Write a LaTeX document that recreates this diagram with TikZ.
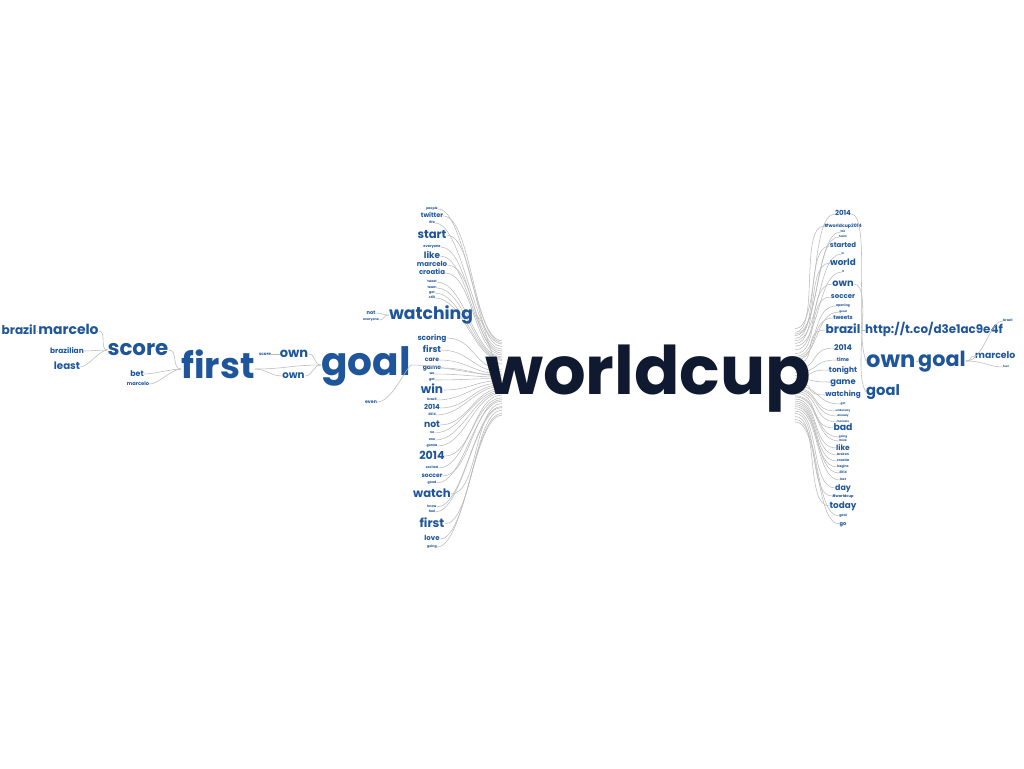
\documentclass[tikz,border=0pt]{standalone}
\usepackage{fontspec}
\setmainfont{Poppins}
\definecolor{wtblue}{HTML}{1E559B}
\definecolor{wtnavy}{HTML}{0F1A30}
\definecolor{wtgray}{HTML}{BBBBBB}
\tikzset{
  w/.code={%
    \pgfmathsetmacro\wsz{0.93*#1}\pgfmathsetmacro\wth{0.54*\wsz}%
    \edef\wtmp{\noexpand\tikzset{font={\noexpand\bfseries\noexpand\fontsize{\wsz}{\wsz}\noexpand\selectfont}, text height=\wth pt}}\wtmp
    \tikzset{inner sep=0pt, text=wtblue, text depth=0pt}},
  conn/.style={draw=wtgray, line width=0.55pt},
}
\newcommand\LW[4]{%
  \node[w=#3] (#1) at (432,#2) {#4};
  \coordinate (#1e) at (502,{378+(#2-378)*0.22});
  \draw[conn] (#1.east) .. controls +(28,0) and +(-28,0) .. (#1e);
}
\newcommand\RW[4]{%
  \node[w=#3] (#1) at (843,#2) {#4};
  \coordinate (#1s) at (795,{378+(#2-378)*0.3});
  \draw[conn] (#1s) .. controls +(25,0) and +(-25,0) .. (#1.west);
}
\begin{document}
\begin{tikzpicture}[x=1pt,y=-1pt]
\useasboundingbox[fill=white] (0,0) rectangle (1024,768);
% left column
\LW{l1}{209}{3.5}{people}
\LW{l2}{216}{7}{twitter}
\LW{l3}{223}{3.5}{fifa}
\LW{l4}{235}{12.5}{start}
\LW{l5}{247}{3.8}{everyone}
\LW{l6}{256}{9.5}{like}
\LW{l7}{265}{7.5}{marcelo}
\LW{l8}{273}{7.5}{croatia}
\LW{l9}{282}{3.5}{tweet}
\LW{l10}{288}{3.5}{team}
\LW{l11}{293}{3.5}{got}
\LW{l12}{298}{3.5}{still}
\LW{l13}{338}{8}{scoring}
\LW{l14}{350}{9.5}{first}
\LW{l15}{360}{6.5}{care}
\LW{l16}{368}{6.5}{game}
\LW{l17}{374}{3.5}{we}
\LW{l18}{380}{3.5}{got}
\LW{l19}{390}{13}{win}
\LW{l20}{400}{3.5}{brazil}
\LW{l21}{408}{7.5}{2014}
\LW{l22}{415}{3.5}{2014}
\LW{l23}{425}{10}{not}
\LW{l24}{433}{3.5}{no}
\LW{l25}{440}{3.5}{one}
\LW{l26}{446}{3.5}{gonna}
\LW{l27}{456}{12}{2014}
\LW{l28}{468}{3.5}{excited}
\LW{l29}{476}{6.5}{soccer}
\LW{l30}{483}{3.5}{good}
\LW{l31}{494}{12.5}{watch}
\LW{l32}{507}{3.5}{know}
\LW{l33}{512}{3.5}{feel}
\LW{l34}{524}{13}{first}
\LW{l35}{539}{7.5}{love}
\LW{l36}{547}{3.5}{going}
% left branches
\node[w=18.5] (watching) at (431,315) {watching};
\coordinate (watchinge) at (502,{378+(315-378)*0.22});
\draw[conn] (watching.east) .. controls +(15,0) and +(-15,0) .. (watchinge);
\node[w=5.5] (notw) at (371,313) {not};
\node[w=3.5] (everw) at (371,320) {everyone};
\draw[conn] (notw.east) .. controls +(6,0) and +(-6,0) .. (watching.west);
\draw[conn] (everw.east) .. controls +(6,0) and +(-6,0) .. (watching.west);
\node[w=42] (goal) at (366,365) {goal};
\coordinate (goale) at (502,{378+(365-378)*0.22});
\draw[conn] (goal.east) .. controls +(30,0) and +(-30,0) .. (goale);
\node[w=5] (even) at (371,402) {even};
\draw[conn] (even.east) .. controls +(14,0) and +(-8,8) .. (goal.east);
\node[w=14] (ownu) at (294,354) {own};
\node[w=4.5] (scores) at (265,354) {score};
\node[w=11] (ownl) at (293.5,376) {own};
\draw[conn] (scores.east) -- (ownu.west);
\draw[conn] (ownu.east) .. controls +(8,0) and +(-8,0) .. (goal.west);
\draw[conn] (ownl.east) .. controls +(8,0) and +(-8,0) .. (goal.west);
\node[w=38.5] (first) at (218,369) {first};
\draw[conn] (first.east) .. controls +(12,0) and +(-12,0) .. (ownl.west);
\draw[conn] (first.east) .. controls +(30,0) and +(-30,0) .. (goal.west);
\node[w=23] (score) at (138,350) {score};
\node[w=8.5] (bet) at (137,374) {bet};
\node[w=5.5] (marcs) at (138,384) {marcelo};
\draw[conn] (score.east) .. controls +(10,0) and +(-10,0) .. (first.west);
\draw[conn] (bet.east) .. controls +(10,0) and +(-10,0) .. (first.west);
\draw[conn] (marcs.east) .. controls +(10,0) and +(-10,0) .. (first.west);
\node[w=15] (marc) at (68.5,331) {marcelo};
\node[w=13] (braz) at (19,331) {brazil};
\node[w=8] (brazn) at (67,351) {brazilian};
\node[w=11] (least) at (67,367) {least};
\draw[conn] (braz.east) -- (marc.west);
\draw[conn] (marc.east) .. controls +(8,0) and +(-8,0) .. (score.west);
\draw[conn] (brazn.east) .. controls +(8,0) and +(-8,0) .. (score.west);
\draw[conn] (least.east) .. controls +(8,0) and +(-8,0) .. (score.west);
% right column
\RW{r1}{214}{7.5}{2014}
\RW{r2}{226}{5}{\#worldcup2014}
\RW{r3}{232}{3}{fail}
\RW{r4}{237}{3}{team}
\RW{r5}{246}{7.5}{started}
\RW{r6}{254}{3}{in}
\RW{r7}{263}{9.5}{world}
\RW{r8}{272}{3}{it}
\RW{r9}{284}{10.5}{own}
\RW{r10}{297}{7.5}{soccer}
\RW{r11}{306}{3.5}{opening}
\RW{r12}{312}{3}{good}
\RW{r13}{318}{6}{tweets}
\RW{r14}{330}{13}{brazil}
\RW{r15}{348}{8.5}{2014}
\RW{r16}{360}{5.5}{time}
\RW{r17}{370}{8}{tonight}
\RW{r18}{382}{9}{game}
\RW{r19}{395}{7.8}{watching}
\RW{r20}{404}{3}{got}
\RW{r21}{411}{3}{underway}
\RW{r22}{416}{3}{already}
\RW{r23}{422}{3}{marcelo}
\RW{r24}{428}{10}{bad}
\RW{r25}{437}{3}{going}
\RW{r26}{441}{3}{think}
\RW{r27}{448}{8}{like}
\RW{r28}{455}{3.5}{broken}
\RW{r29}{461}{3.5}{croatia}
\RW{r30}{467}{3.5}{begins}
\RW{r31}{473}{3.5}{2014}
\RW{r32}{480}{3.5}{lost}
\RW{r33}{488}{8.5}{day}
\RW{r34}{496}{4}{\#worldcup}
\RW{r35}{506}{9.5}{today}
\RW{r36}{516}{3.5}{goal}
\RW{r37}{524}{5.5}{go}
% right branches
\node[w=12.8, anchor=west] (http) at (865,330) {http://t.co/d3e1ac9e4f};
\draw[conn] (r14.east) -- (http.west);
\node[w=24.3, anchor=west] (ownb) at (866,361) {own};
\node[w=22.3, anchor=west] (goalb) at (918,361) {goal};
\node[w=15.8, anchor=west] (goal2) at (866,392) {goal};
\draw[conn] (r1.east) .. controls +(20,0) and +(-12,-30) .. (ownb.west);
\draw[conn] (r9.east) .. controls +(20,0) and +(-14,-20) .. (goal2.west);
\draw[conn] (ownb.east) -- (goalb.west);
\node[w=10, anchor=west] (marcr) at (975,356) {marcelo};
\node[w=3.5, anchor=west] (brazr) at (1003,321) {brazil};
\node[w=3, anchor=west] (fuel) at (1003,367) {fuel};
\draw[conn] (goalb.east) .. controls +(6,0) and +(-6,0) .. (marcr.west);
\draw[conn] (goalb.east) .. controls +(18,0) and +(-14,0) .. (brazr.west);
\draw[conn] (goalb.east) .. controls +(18,0) and +(-14,0) .. (fuel.west);
% root
\node[inner sep=0pt, text=wtnavy, font={\bfseries\fontsize{67}{67}\selectfont}, text height=36.2pt, text depth=0pt] (root) at (648,376) {worldcup};
\end{tikzpicture}
\end{document}
